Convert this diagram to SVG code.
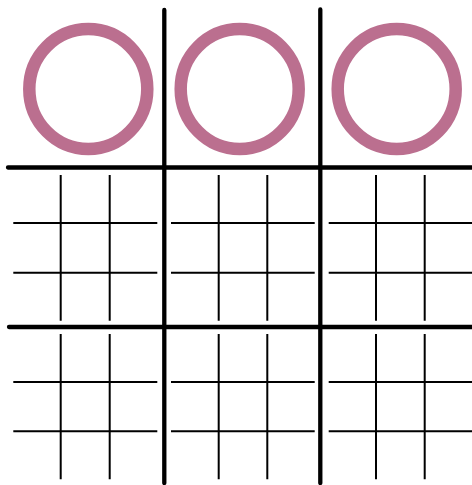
<svg xmlns="http://www.w3.org/2000/svg" width="472" height="485" viewBox="0 0 472 485">
<style>
.thick{stroke:#000;stroke-width:4.3;stroke-linecap:round;fill:none}
.thin{stroke:#000;stroke-width:2;fill:none}
.ring{fill:none;stroke:#bb6f8f;stroke-width:12.5}
</style>
<rect width="472" height="485" fill="#fff"/>
<g id="circles">
<ellipse class="ring" cx="88.3" cy="89" rx="59" ry="60"/>
<ellipse class="ring" cx="239.7" cy="89" rx="59" ry="60"/>
<ellipse class="ring" cx="396.7" cy="89" rx="59" ry="60"/>
</g>
<g id="thin-grid">
<path class="thin" d="M60.7 175V320.7M109.7 175V320.7M218.7 175V320.7M267.3 175V320.7M376 175V320.7M424.7 175V320.7
M60.7 334V479.3M109.7 334V479.3M218.7 334V479.3M267.3 334V479.3M376 334V479.3M424.7 334V479.3
M13.3 223H157.3M171 223H314.7M328.7 223H472
M13.3 272.7H157.3M171 272.7H314.7M328.7 272.7H472
M13.3 382H157.3M171 382H314.7M328.7 382H472
M13.3 431.3H157.3M171 431.3H314.7M328.7 431.3H472"/>
</g>
<g id="thick-grid">
<path class="thick" d="M164.3 10V483M320.3 9.5V483M8 167.5H474M9 327H474"/>
</g>
</svg>
